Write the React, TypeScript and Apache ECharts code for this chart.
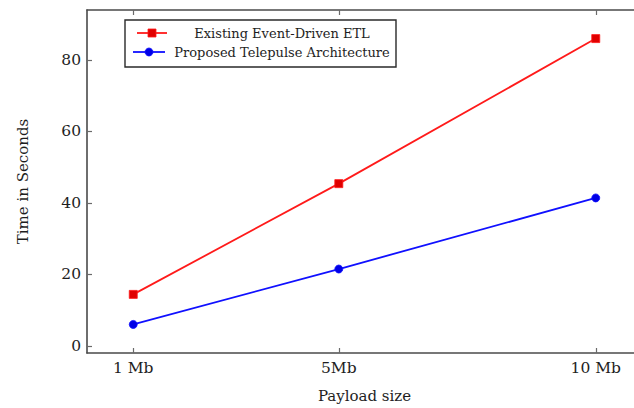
import React, { useEffect, useRef } from "react";
import * as echarts from "echarts";

const payloadMb = [1, 5, 10];
const categories = ["1 Mb", "5Mb", "10 Mb"];
const seriesNames = ["Existing Event-Driven ETL", "Proposed Telepulse Architecture"];
const etlTimes = [14.4, 45.4, 86.0];
const telepulseTimes = [6.0, 21.5, 41.4];
const yTicks = [0, 20, 40, 60, 80];

const FONT = "DejaVu Serif";
const AXIS = "#4a4a4a";
const TICK = "#6a6a6a";
const TEXT = "#1e1e1e";
const RED = "#ff1a1a";
const BLUE = "#1010ff";

export default function App() {
  const ref = useRef<HTMLDivElement>(null);
  useEffect(() => {
    document.body.style.margin = "0";
    if (!ref.current) return;
    const chart = echarts.init(ref.current, undefined, { renderer: "svg" });
    const xLabel = (v: number) => {
      const i = payloadMb.indexOf(v);
      return i >= 0 ? categories[i] : "";
    };
    const axisLine = { show: true, onZero: false, lineStyle: { color: AXIS, width: 1.6 } };
    const tick = (vals: number[]) => ({
      show: true,
      inside: true,
      length: 5,
      customValues: vals,
      lineStyle: { color: TICK, width: 1.2 },
    });
    chart.setOption({
      animation: false,
      backgroundColor: "#ffffff",
      grid: {
        left: 87,
        top: 10,
        width: 555,
        height: 343,
        containLabel: false,
        outerBoundsMode: "none",
      },
      xAxis: [
        {
          type: "value",
          min: 0.1,
          max: 10.9,
          position: "bottom",
          axisLine,
          axisTick: tick(payloadMb),
          splitLine: { show: false },
          axisLabel: {
            customValues: payloadMb,
            formatter: xLabel,
            fontFamily: FONT,
            fontSize: 15.5,
            color: TEXT,
            margin: 7,
          },
          name: "Payload size",
          nameLocation: "middle",
          nameGap: 35,
          nameTextStyle: { fontFamily: FONT, fontSize: 15, color: TEXT },
        },
        {
          type: "value",
          min: 0.1,
          max: 10.9,
          position: "top",
          axisLine,
          axisTick: tick(payloadMb),
          splitLine: { show: false },
          axisLabel: { show: false },
        },
      ],
      yAxis: [
        {
          type: "value",
          min: -2,
          max: 94,
          position: "left",
          axisLine,
          axisTick: tick(yTicks),
          splitLine: { show: false },
          axisLabel: {
            customValues: yTicks,
            fontFamily: FONT,
            fontSize: 15.5,
            color: TEXT,
            margin: 6,
          },
          name: "Time in Seconds",
          nameLocation: "middle",
          nameGap: 57,
          nameTextStyle: { fontFamily: FONT, fontSize: 15, color: TEXT },
        },
        {
          type: "value",
          min: -2,
          max: 94,
          position: "right",
          axisLine,
          axisTick: tick(yTicks),
          splitLine: { show: false },
          axisLabel: { show: false },
        },
      ],
      series: [
        {
          name: seriesNames[0],
          type: "line",
          xAxisIndex: 0,
          yAxisIndex: 0,
          data: payloadMb.map((x, i) => [x, etlTimes[i]]),
          symbol: "rect",
          symbolSize: 8,
          lineStyle: { color: RED, width: 1.8 },
          itemStyle: { color: "#e00000", borderColor: RED, borderWidth: 0.8 },
        },
        {
          name: seriesNames[1],
          type: "line",
          xAxisIndex: 0,
          yAxisIndex: 0,
          data: payloadMb.map((x, i) => [x, telepulseTimes[i]]),
          symbol: "circle",
          symbolSize: 8,
          lineStyle: { color: BLUE, width: 1.8 },
          itemStyle: { color: "#0000e6", borderColor: BLUE, borderWidth: 0.8 },
        },
      ],
      graphic: [
        {
          type: "rect",
          shape: { x: 125, y: 20, width: 271, height: 47 },
          style: { fill: "#ffffff", stroke: "#2a2a2a", lineWidth: 1.4 },
          z: 10,
        },
        {
          type: "line",
          shape: { x1: 137, y1: 33, x2: 167, y2: 33 },
          style: { stroke: RED, lineWidth: 1.8 },
          z: 11,
        },
        {
          type: "rect",
          shape: { x: 148, y: 29, width: 8, height: 8 },
          style: { fill: "#e00000", stroke: RED, lineWidth: 0.8 },
          z: 12,
        },
        {
          type: "text",
          x: 282,
          y: 33,
          style: {
            text: seriesNames[0],
            fontFamily: FONT,
            fontSize: 13,
            fill: TEXT,
            align: "center",
            verticalAlign: "middle",
          },
          z: 12,
        },
        {
          type: "line",
          shape: { x1: 133, y1: 52, x2: 165, y2: 52 },
          style: { stroke: BLUE, lineWidth: 1.8 },
          z: 11,
        },
        {
          type: "circle",
          shape: { cx: 149, cy: 52, r: 4 },
          style: { fill: "#0000e6", stroke: BLUE, lineWidth: 0.8 },
          z: 12,
        },
        {
          type: "text",
          x: 282,
          y: 52,
          style: {
            text: seriesNames[1],
            fontFamily: FONT,
            fontSize: 13,
            fill: TEXT,
            align: "center",
            verticalAlign: "middle",
          },
          z: 12,
        },
      ],
    });
    return () => chart.dispose();
  }, []);
  return <div ref={ref} style={{ width: 634, height: 408 }} />;
}
